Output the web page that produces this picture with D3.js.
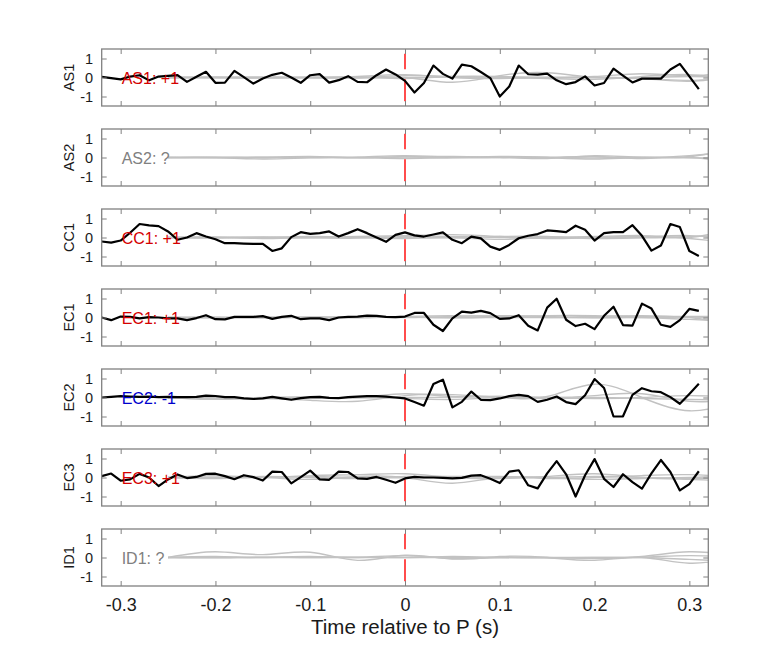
<!DOCTYPE html>
<html>
<head>
<meta charset="utf-8">
<script src="https://cdn.jsdelivr.net/npm/d3@7"></script>
<style>
  html, body { margin: 0; padding: 0; background: #fff; }
  svg { display: block; font-family: "Liberation Sans", Arial, Helvetica, sans-serif; }
</style>
</head>
<body>
<svg id="chart" width="782" height="657"></svg>
<script>
// ---------------- data ----------------
const channels = ["AS1", "AS2", "CC1", "EC1", "EC2", "EC3", "ID1"];
const polarity = ["+1", "?", "+1", "+1", "-1", "+1", "?"];

const xTickValues = [-0.3, -0.2, -0.1, 0, 0.1, 0.2, 0.3];
const xTickLabels = ["-0.3", "-0.2", "-0.1", "0", "0.1", "0.2", "0.3"];
const yTickValues = [-1, 0, 1];
const yTickLabels = ["-1", "0", "1"];
const xLabel = "Time relative to P (s)";

// black traces sampled every 0.01 s starting at -0.32 s
const blackStart = -0.32, blackStep = 0.01;
const blackAS1 = [0.03,-0.03,-0.1,0.05,0.12,-0.15,0.05,0.09,0.12,-0.23,0.04,0.3,-0.28,-0.27,0.35,0.02,-0.32,-0.05,0.14,0.25,0.0,-0.28,0.12,0.18,-0.27,-0.14,0.07,-0.23,-0.25,0.12,0.42,0.16,-0.18,-0.79,-0.29,0.63,0.19,-0.06,0.68,0.59,0.29,-0.03,-1.0,-0.47,0.63,0.17,0.15,0.2,-0.15,-0.35,-0.24,0.06,-0.42,-0.29,0.47,0.1,-0.26,-0.06,-0.06,-0.06,0.42,0.72,0.06,-0.61];
const blackCC1 = [-0.21,-0.27,-0.16,0.25,0.71,0.64,0.6,0.32,-0.12,0.0,0.23,0.05,-0.09,-0.3,-0.3,-0.32,-0.34,-0.34,-0.71,-0.57,0.02,0.28,0.19,0.23,0.32,0.05,0.23,0.44,0.23,0.0,-0.23,0.14,0.27,0.11,0.05,0.16,0.27,-0.12,-0.3,0.05,-0.05,-0.48,-0.65,-0.39,-0.04,0.09,0.18,0.37,0.34,0.28,0.62,0.41,-0.16,0.23,0.28,0.28,0.65,0.09,-0.69,-0.42,0.71,0.55,-0.71,-0.97];
const blackEC1 = [0.0,-0.14,0.05,0.03,-0.05,0.02,0.0,-0.05,-0.05,-0.14,-0.03,0.12,-0.09,-0.1,0.03,0.03,0.03,0.07,-0.07,0.03,0.09,-0.09,-0.05,-0.05,-0.14,0.0,0.03,0.05,0.1,0.09,0.03,0.02,0.05,0.24,0.24,-0.38,-0.71,-0.05,0.31,0.26,0.35,0.23,-0.07,-0.05,0.12,-0.43,-0.68,0.52,0.99,-0.12,-0.45,-0.33,-0.61,0.09,0.57,-0.4,-0.43,0.73,0.47,-0.38,-0.49,-0.14,0.45,0.35];
const blackEC2 = [0.0,0.03,0.07,0.05,0.03,0.05,0.02,0.03,0.02,0.02,0.03,0.1,0.08,0.02,0.02,-0.05,-0.08,-0.05,0.03,-0.05,-0.12,-0.03,0.02,0.03,-0.02,-0.03,0.02,0.05,0.07,0.07,0.05,0.0,-0.05,-0.24,-0.43,0.71,0.94,-0.52,-0.23,0.31,-0.12,-0.14,-0.05,0.07,0.14,0.07,-0.23,-0.12,0.05,-0.24,-0.35,0.12,0.97,0.5,-1.0,-0.99,0.14,0.49,0.33,0.28,0.02,-0.33,0.19,0.73];
const blackEC3 = [0.07,0.21,-0.17,-0.1,0.19,0.0,-0.45,-0.1,0.16,-0.03,0.03,0.19,0.2,0.07,-0.09,0.12,0.02,-0.16,0.31,0.29,-0.31,0.02,0.36,-0.1,-0.12,0.31,0.29,-0.05,-0.07,0.03,-0.12,-0.28,-0.05,0.03,0.0,0.0,-0.02,-0.05,-0.02,0.1,0.12,-0.07,-0.29,0.31,0.38,-0.41,-0.57,0.22,0.86,0.17,-1.0,0.12,0.97,-0.07,-0.5,0.17,-0.24,-0.59,0.22,0.92,0.29,-0.68,-0.35,0.33];

// grey traces sampled every 0.05 s starting at -0.25 s
const greyStart = -0.25, greyStep = 0.05;
const greyAS1 = [
  [0, 0.02, 0.0, -0.02, 0.05, 0.15, 0.0, -0.05, 0.0, 0.05, 0.2, 0.1, 0.3],
  [0, -0.02, 0.02, 0.0, -0.03, 0.0, -0.25, 0.1, 0.25, 0.0, -0.05, -0.15, 0.0],
  [0, 0.0, -0.03, 0.02, 0.0, 0.1, 0.05, 0.0, -0.05, -0.1, 0.05, 0.15, -0.1],
  [0, 0.01, 0.0, 0.0, 0.02, -0.05, 0.05, 0.05, 0.0, 0.0, -0.05, -0.2, 0.1],
  [0, 0, 0, 0, 0, 0, 0.02, 0, 0, 0, 0, 0.05, 0]
];
const greyAS2 = [
  [0, 0, -0.08, -0.02, 0.02, 0.1, 0.02, 0.05, 0.0, -0.08, 0.0, 0.05, 0.5],
  [0, 0.02, 0.0, 0.05, -0.02, 0.05, 0.05, 0.0, -0.05, 0.1, 0.0, 0.1, 0.3],
  [0, -0.02, 0.02, 0.0, 0.0, -0.05, 0.0, 0.02, 0.0, 0.05, -0.05, 0.0, -0.3],
  [0, 0, 0, 0.02, 0, 0.02, -0.02, 0, 0.02, -0.02, 0.02, -0.02, 0.0]
];
const greyCC1 = [
  [0, 0.02, -0.05, 0.0, 0.05, 0.1, 0.15, 0.05, -0.05, 0.0, 0.05, 0.0, 0.5],
  [0, -0.03, 0.0, 0.05, 0.0, -0.05, -0.02, -0.1, 0.0, 0.05, 0.1, -0.05, -0.3],
  [0, 0.0, 0.03, -0.02, -0.03, 0.05, 0.0, 0.05, 0.05, -0.05, 0.0, 0.1, -0.15],
  [0, 0.01, 0.0, 0.0, 0.02, 0.0, 0.05, 0.0, 0.0, 0.02, -0.02, 0.05, 0.1]
];
const greyEC1 = [
  [0, 0.02, 0.0, 0.02, 0.0, 0.05, 0.1, 0.05, 0.1, 0.1, 0.05, 0.0, -0.4],
  [0, -0.02, 0.02, 0.0, 0.02, 0.0, 0.05, 0.1, 0.05, 0.0, 0.0, -0.1, -0.2],
  [0, 0.0, -0.02, 0.02, 0.0, 0.02, 0.0, 0.0, 0.0, 0.05, 0.1, 0.05, 0.1],
  [0, 0, 0, 0, 0, 0.02, -0.02, 0.02, 0.0, -0.02, 0.0, 0.02, 0.0]
];
const greyEC2 = [
  [0, 0.02, -0.05, -0.15, -0.2, 0.1, 0.15, 0.0, 0.05, 0.7, 0.0, -0.7, -0.2],
  [0, -0.05, 0.0, 0.02, 0.0, 0.2, 0.05, 0.05, 0.0, 0.1, 0.2, -0.2, -0.1],
  [0, 0.0, -0.05, -0.05, 0.0, -0.05, -0.1, 0.0, 0.0, -0.05, 0.0, 0.1, 0.0],
  [0, -0.1, -0.02, 0.0, -0.02, 0.0, 0.02, 0.05, -0.05, 0.0, -0.05, -0.1, -0.15]
];
const greyEC3 = [
  [0, 0.1, 0.0, 0.1, 0.15, 0.2, 0.0, -0.05, 0.05, 0.2, 0.0, -0.1, -0.2],
  [0, -0.05, 0.0, -0.1, 0.05, 0.0, -0.3, 0.0, -0.05, 0.0, 0.1, 0.15, 0.0],
  [0, 0.02, 0.05, 0.0, -0.05, 0.05, 0.05, 0.05, 0.0, -0.1, -0.05, 0.0, 0.1],
  [0, 0, 0.02, 0.05, 0, -0.02, 0, 0.02, 0, 0.05, 0, -0.05, 0]
];
const greyID1 = [
  [0, 0.3, 0.15, 0.28, -0.15, 0.12, -0.08, 0.05, 0.0, -0.15, 0.0, -0.3, 0.0],
  [0, 0.05, 0.0, 0.05, 0.0, 0.1, -0.05, 0.0, 0.0, -0.05, 0.05, 0.3, 0.1],
  [0, -0.02, 0.02, 0.0, 0.02, 0.0, 0.05, 0.0, -0.02, 0.0, 0.02, 0.1, 0.0],
  [0, 0, 0, 0, 0, 0, 0, 0, 0, 0, 0, -0.1, -0.2]
];

const blackSeries = [blackAS1, null, blackCC1, blackEC1, blackEC2, blackEC3, null];
const greySeries = [greyAS1, greyAS2, greyCC1, greyEC1, greyEC2, greyEC3, greyID1];

// ---------------- drawing ----------------
const svg = d3.select("#chart");
const x = d3.scaleLinear().domain([-0.32, 0.32]).range([101.7, 708.3]);
const panelTop0 = 49, panelGap = 80, panelH = 57;
const frameColor = "#808080";
const polColor = p => p === "+1" ? "#d40000" : (p === "-1" ? "#0000cc" : "#808080");

channels.forEach((ch, i) => {
  const top = panelTop0 + panelGap * i;
  const y = d3.scaleLinear().domain([-1.5, 1.5]).range([top + panelH, top]);
  const g = svg.append("g");

  const clipId = "clip" + i;
  svg.append("clipPath").attr("id", clipId)
    .append("rect").attr("x", x.range()[0]).attr("y", top)
    .attr("width", x.range()[1] - x.range()[0]).attr("height", panelH);

  const plot = g.append("g").attr("clip-path", `url(#${clipId})`);

  // grey traces
  const greyLine = d3.line()
    .x((v, k) => x(greyStart + greyStep * k))
    .y(v => y(v))
    .curve(d3.curveNatural);
  plot.selectAll("path.grey").data(greySeries[i]).enter().append("path")
    .attr("class", "grey")
    .attr("d", greyLine)
    .attr("fill", "none")
    .attr("stroke", "#c2c2c2")
    .attr("stroke-width", 1.4);

  // red dashed zero line
  plot.append("line")
    .attr("x1", x(0)).attr("x2", x(0))
    .attr("y1", y(-1.25)).attr("y2", y(1.25))
    .attr("stroke", "#ff2d2d")
    .attr("stroke-width", 1.7)
    .attr("stroke-dasharray", "22,10");

  // black trace
  if (blackSeries[i]) {
    const blackLine = d3.line()
      .x((v, k) => x(blackStart + blackStep * k))
      .y(v => y(v));
    plot.append("path")
      .datum(blackSeries[i])
      .attr("d", blackLine)
      .attr("fill", "none")
      .attr("stroke", "#000")
      .attr("stroke-width", 2.2)
      .attr("stroke-linejoin", "round");
  }

  // axes (ticks inward on all sides)
  const ax = g.append("g").attr("class", "axes");
  const yLeft = d3.axisLeft(y).tickValues(yTickValues)
    .tickFormat((d, k) => yTickLabels[k]).tickSize(-5).tickPadding(8.5);
  ax.append("g").attr("transform", `translate(${x.range()[0]},0)`).call(yLeft)
    .call(s => s.select(".domain").remove())
    .call(s => s.selectAll("line").attr("stroke", frameColor))
    .call(s => s.selectAll("text").attr("font-size", 14.5).attr("fill", "#1a1a1a").attr("font-family", null));

  const yRight = d3.axisRight(y).tickValues(yTickValues).tickFormat("").tickSize(-5);
  ax.append("g").attr("transform", `translate(${x.range()[1]},0)`).call(yRight)
    .call(s => s.select(".domain").remove())
    .call(s => s.selectAll("line").attr("stroke", frameColor));

  const xTop = d3.axisTop(x).tickValues(xTickValues).tickFormat("").tickSize(-5);
  ax.append("g").attr("transform", `translate(0,${top})`).call(xTop)
    .call(s => s.select(".domain").remove())
    .call(s => s.selectAll("line").attr("stroke", frameColor));

  const last = i === channels.length - 1;
  const xBot = d3.axisBottom(x).tickValues(xTickValues)
    .tickFormat(last ? ((d, k) => xTickLabels[k]) : "")
    .tickSize(-5).tickPadding(12);
  ax.append("g").attr("transform", `translate(0,${top + panelH})`).call(xBot)
    .call(s => s.select(".domain").remove())
    .call(s => s.selectAll("line").attr("stroke", frameColor))
    .call(s => s.selectAll("text").attr("font-size", 18).attr("fill", "#1a1a1a").attr("font-family", null));

  // frame
  g.append("rect")
    .attr("x", x.range()[0]).attr("y", top)
    .attr("width", x.range()[1] - x.range()[0]).attr("height", panelH)
    .attr("fill", "none").attr("stroke", frameColor).attr("stroke-width", 1.3);

  // y label
  g.append("text")
    .attr("transform", `translate(74,${y(0)}) rotate(-90)`)
    .attr("text-anchor", "middle")
    .attr("font-size", 14.5)
    .attr("fill", "#1a1a1a")
    .text(ch);

  // in-panel label
  g.append("text")
    .attr("x", x(-0.3) + 1)
    .attr("y", y(0) + 6.5)
    .attr("font-size", 16)
    .attr("fill", polColor(polarity[i]))
    .text(`${ch}: ${polarity[i]}`);
});

svg.append("text")
  .attr("x", x(0))
  .attr("y", 634)
  .attr("text-anchor", "middle")
  .attr("font-size", 20.5)
  .attr("fill", "#1a1a1a")
  .text(xLabel);
</script>
</body>
</html>
